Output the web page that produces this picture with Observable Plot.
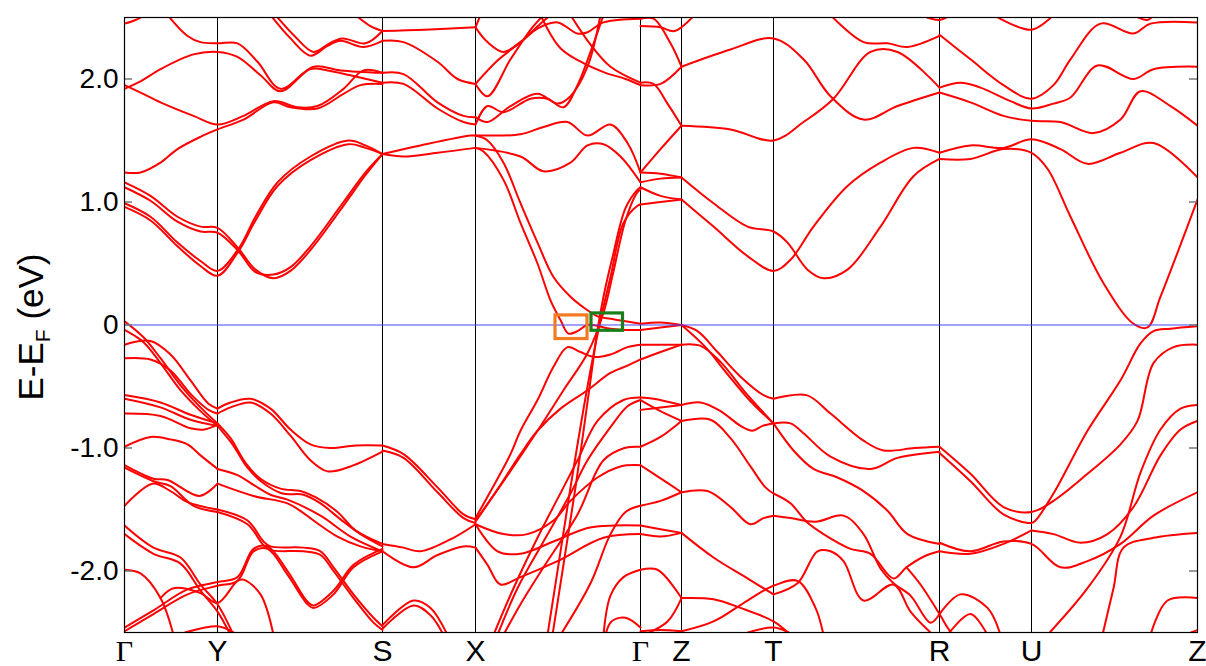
<!DOCTYPE html>
<html><head><meta charset="utf-8">
<script src="https://cdn.jsdelivr.net/npm/d3@7"></script>
<script src="https://cdn.jsdelivr.net/npm/@observablehq/plot@0.6"></script>
<style>body{margin:0;background:#fff;}</style>
</head><body><div id="chart"></div>
<script>
// High-symmetry points along the k-path
const kPoints = [0, 0.93, 2.58, 3.51, 5.16, 5.57, 6.49, 8.15, 9.07, 10.73];
const kLabels = ["Γ","Y","S","X","Γ","Z","T","R","U","Z"];
const yTicks = [-2, -1, 0, 1, 2];
const yTickLabels = ["-2.0","-1.0","0","1.0","2.0"];

// Highlight boxes near the Fermi level
const boxK1 = [4.31, 4.67];
const boxK2 = [4.63, 4.985];
const boxE1 = [-0.114, -0.047];
const boxE2 = [0.078, 0.094];
const boxColors = ["#f27a1f", "#1a7f1a"];

// Bands: each is a list of [k, E-EF] points
const upperGS = [
 [[0,0.99],[0.26,0.88],[0.53,0.67],[0.76,0.52],[0.93,0.44],[1.14,0.62],[1.31,0.88],[1.53,1.16],[1.86,1.37],[2.24,1.50],[2.41,1.46],[2.58,1.39]],
 [[0,0.96],[0.26,0.85],[0.53,0.64],[0.76,0.48],[0.93,0.40],[1.14,0.60],[1.31,0.85],[1.53,1.13],[1.86,1.34],[2.24,1.47],[2.41,1.44],[2.58,1.39]],
 [[0,1.16],[0.26,1.05],[0.53,0.88],[0.76,0.80],[0.93,0.79],[1.14,0.62],[1.31,0.45],[1.49,0.38],[1.66,0.44],[1.86,0.61],[2.19,0.97],[2.41,1.22],[2.58,1.39]],
 [[0,1.12],[0.26,1.01],[0.53,0.84],[0.76,0.76],[0.93,0.75],[1.14,0.60],[1.31,0.43],[1.49,0.41],[1.66,0.47],[1.86,0.64],[2.19,1.00],[2.41,1.24],[2.58,1.39]],
 [[0,1.24],[0.16,1.24],[0.36,1.32],[0.53,1.43],[0.76,1.53],[0.93,1.59],[1.19,1.67],[1.49,1.81],[1.66,1.77],[1.93,1.76],[2.19,1.88],[2.36,1.95],[2.58,1.96]],
 [[0,1.95],[0.16,1.89],[0.36,1.81],[0.69,1.70],[0.93,1.63],[1.19,1.70],[1.49,1.82],[1.73,1.77],[1.93,1.78],[2.19,1.92],[2.39,2.07],[2.58,2.05]],
 [[0,1.92],[0.16,1.98],[0.36,2.08],[0.69,2.20],[0.93,2.22],[1.13,2.18],[1.36,2.03],[1.56,1.90],[1.86,2.08],[2.03,2.07],[2.26,2.03],[2.58,1.97]],
 [[0.43,2.52],[0.63,2.35],[0.76,2.30],[0.93,2.29],[1.13,2.29],[1.33,2.14],[1.56,1.92],[1.89,2.10],[2.16,2.07],[2.58,2.05]],
 [[1.46,2.52],[1.66,2.33],[1.86,2.19],[2.03,2.27],[2.16,2.31],[2.39,2.26],[2.58,2.31]],
 [[1.51,2.52],[1.70,2.35],[1.89,2.22],[2.05,2.29],[2.18,2.33],[2.41,2.29],[2.58,2.39]],
 [[0,2.45],[0.11,2.48],[0.21,2.52]],
 [[0,2.50],[0.06,2.52]],
 [[2.31,2.52],[2.46,2.43],[2.58,2.39]]
];

const lowerGY = [
 [[0,0.03],[0.19,-0.10],[0.36,-0.27],[0.56,-0.49],[0.76,-0.67],[0.93,-0.80]],
 [[0,-0.04],[0.19,-0.14],[0.36,-0.31],[0.56,-0.53],[0.76,-0.70],[0.93,-0.82]],
 [[0,-0.16],[0.26,-0.13],[0.46,-0.24],[0.66,-0.45],[0.84,-0.64],[0.93,-0.68]],
 [[0,-0.27],[0.26,-0.28],[0.46,-0.37],[0.66,-0.56],[0.84,-0.69],[0.93,-0.72]],
 [[0,-0.57],[0.36,-0.63],[0.66,-0.73],[0.93,-0.80]],
 [[0,-0.60],[0.36,-0.67],[0.66,-0.77],[0.93,-0.82]],
 [[0,-0.72],[0.36,-0.74],[0.66,-0.84],[0.80,-0.85],[0.93,-0.81]],
 [[0,-0.99],[0.26,-0.91],[0.46,-0.93],[0.63,-0.97],[0.76,-1.06],[0.93,-1.17]],
 [[0,-1.14],[0.29,-1.25],[0.43,-1.26],[0.75,-1.39],[0.93,-1.29]],
 [[0,-1.16],[0.29,-1.27],[0.46,-1.31],[0.69,-1.47],[0.93,-1.52]],
 [[0,-1.47],[0.28,-1.29],[0.46,-1.35],[0.63,-1.44],[0.93,-1.50]],
 [[0,-1.63],[0.29,-1.81],[0.56,-1.89],[0.76,-2.11],[0.93,-2.27],[1.09,-2.52]],
 [[0,-1.70],[0.29,-1.86],[0.56,-1.94],[0.76,-2.16],[0.93,-2.33],[1.06,-2.52]],
 [[0,-1.99],[0.16,-2.02],[0.36,-2.22],[0.49,-2.52]],
 [[0.36,-2.22],[0.49,-2.14],[0.76,-2.18],[0.93,-2.26],[1.13,-2.08],[1.19,-2.07],[1.36,-2.19],[1.49,-2.52]],
 [[0,-2.49],[0.29,-2.35],[0.63,-2.19],[0.93,-2.12],[1.13,-2.08],[1.29,-1.84],[1.43,-1.82],[1.63,-2.03],[1.83,-2.27],[1.89,-2.30],[2.09,-2.19],[2.29,-1.97],[2.58,-1.84]],
 [[0,-2.46],[0.29,-2.32],[0.63,-2.15],[0.93,-2.09],[1.13,-2.05],[1.29,-1.82],[1.43,-1.80],[1.63,-2.00],[1.83,-2.25],[1.89,-2.28],[2.09,-2.16],[2.29,-1.95],[2.58,-1.82]],
 [[0.53,-2.52],[0.93,-2.45],[1.13,-2.52]]
];

const lowerYS = [
 [[0.93,-0.68],[1.06,-0.63],[1.26,-0.60],[1.46,-0.68],[1.66,-0.85],[1.86,-0.97],[2.06,-1.00],[2.31,-0.98],[2.58,-0.98]],
 [[0.93,-0.72],[1.06,-0.67],[1.26,-0.63],[1.46,-0.72],[1.66,-0.90],[1.86,-1.10],[2.03,-1.19],[2.26,-1.15],[2.58,-1.03]],
 [[0.93,-0.80],[1.06,-0.92],[1.21,-1.12],[1.36,-1.25],[1.56,-1.33],[1.76,-1.35],[1.91,-1.40],[2.13,-1.52],[2.31,-1.67],[2.58,-1.78]],
 [[0.93,-0.82],[1.08,-0.97],[1.23,-1.16],[1.38,-1.28],[1.58,-1.37],[1.79,-1.38],[1.96,-1.45],[2.16,-1.58],[2.36,-1.70],[2.58,-1.80]],
 [[0.93,-1.17],[1.13,-1.22],[1.29,-1.30],[1.46,-1.38],[1.63,-1.42],[1.96,-1.55],[2.26,-1.72],[2.58,-1.84]],
 [[0.93,-1.29],[1.29,-1.39],[1.63,-1.45],[1.79,-1.53],[1.96,-1.63],[2.13,-1.72],[2.36,-1.80],[2.58,-1.84]],
 [[0.93,-1.50],[1.23,-1.59],[1.39,-1.76],[1.46,-1.80],[1.79,-1.81],[1.96,-1.84],[2.09,-1.97],[2.29,-2.19],[2.49,-2.38],[2.58,-2.45]],
 [[0.93,-1.52],[1.23,-1.62],[1.39,-1.79],[1.46,-1.83],[1.79,-1.84],[1.96,-1.87],[2.09,-2.00],[2.29,-2.22],[2.49,-2.42],[2.58,-2.48]]
];

const bandsSX = [
 [[2.58,2.39],[3.00,2.40],[3.51,2.42]],
 [[2.58,2.31],[2.79,2.30],[3.13,2.14],[3.33,2.00],[3.51,1.96]],
 [[2.58,2.05],[2.79,2.04],[3.13,1.81],[3.39,1.70],[3.51,1.69]],
 [[2.58,1.97],[2.79,1.96],[3.13,1.76],[3.39,1.65],[3.51,1.63]],
 [[2.58,1.39],[2.96,1.46],[3.46,1.54],[3.51,1.54]],
 [[2.58,1.39],[2.79,1.37],[3.13,1.40],[3.51,1.44]],
 [[2.58,-0.98],[2.79,-1.05],[3.13,-1.32],[3.39,-1.54],[3.51,-1.58]],
 [[2.58,-1.02],[2.79,-1.08],[3.13,-1.36],[3.39,-1.57],[3.51,-1.61]],
 [[2.58,-1.78],[2.79,-1.81],[2.96,-1.84],[3.29,-1.73],[3.51,-1.62]],
 [[2.58,-1.84],[2.89,-1.97],[3.13,-1.87],[3.39,-1.80],[3.51,-1.81]],
 [[2.58,-2.44],[2.89,-2.24],[3.06,-2.30],[3.23,-2.52]],
 [[2.58,-2.47],[2.89,-2.28],[3.06,-2.36],[3.19,-2.52]]
];

const bandsXG = [
 [[3.51,1.54],[3.63,1.50],[3.79,1.32],[3.96,0.99],[4.13,0.67],[4.29,0.39],[4.46,0.23],[4.63,0.12],[4.73,0.07],[4.86,0.05],[5.01,0.03],[5.16,0.01]],
 [[3.51,1.44],[3.59,1.41],[3.79,1.18],[3.96,0.83],[4.13,0.50],[4.26,0.20],[4.36,0.04],[4.44,-0.07],[4.53,-0.05],[4.63,0.00],[4.86,-0.03],[5.01,-0.04],[5.16,-0.04]],
 [[3.51,1.54],[3.59,1.54],[3.96,1.55],[4.19,1.61],[4.43,1.65],[4.63,1.54],[4.86,1.63],[5.03,1.48],[5.16,1.24]],
 [[3.51,1.44],[3.96,1.37],[4.19,1.25],[4.46,1.32],[4.63,1.46],[4.79,1.47],[4.96,1.37],[5.16,1.16]],
 [[3.51,1.63],[3.63,1.78],[3.79,1.73],[4.06,1.84],[4.23,1.84],[4.39,1.77],[4.53,1.95],[4.66,2.22],[4.79,2.52]],
 [[3.51,1.69],[3.63,1.65],[3.86,1.78],[4.13,1.88],[4.33,1.80],[4.46,1.86],[4.63,2.10],[4.76,2.52]],
 [[3.51,1.96],[3.63,1.86],[3.86,2.16],[4.06,2.40],[4.19,2.52]],
 [[3.51,1.96],[3.73,2.15],[3.96,2.30],[4.16,2.45],[4.26,2.52]],
 [[3.51,2.42],[3.63,2.30],[3.79,2.22],[3.96,2.30],[4.13,2.41],[4.33,2.46],[4.53,2.37],[4.63,2.38],[4.79,2.46],[5.16,2.49]],
 [[4.16,2.52],[4.36,2.25],[4.61,2.12],[4.81,2.05],[5.01,2.00],[5.16,1.95]],
 [[4.46,2.52],[4.66,2.28],[4.86,2.10],[5.16,1.97]],
 [[3.51,2.42],[3.56,2.52]],
 [[4.23,-2.52],[4.33,-2.00],[4.46,-1.32],[4.63,-0.50],[4.76,0.04],[4.86,0.39],[4.99,0.83],[5.13,0.97],[5.16,0.98]],
 [[4.28,-2.52],[4.38,-2.00],[4.51,-1.32],[4.66,-0.45],[4.73,-0.04],[4.79,0.23],[4.88,0.55],[5.01,0.95],[5.13,1.10],[5.16,1.12]],
 [[3.51,-1.59],[3.79,-1.27],[4.13,-0.86],[4.39,-0.53],[4.63,-0.23],[4.79,0.10],[4.88,0.40],[5.01,0.85],[5.13,1.08],[5.16,1.10]],
 [[3.51,-1.57],[3.73,-1.25],[3.86,-1.05],[3.96,-0.86],[4.13,-0.61],[4.29,-0.34],[4.43,-0.18],[4.56,-0.22],[4.69,-0.26],[4.86,-0.24],[5.03,-0.18],[5.16,-0.16]],
 [[3.51,-1.60],[3.76,-1.30],[3.96,-1.05],[4.13,-0.86],[4.36,-0.68],[4.63,-0.53],[4.86,-0.39],[5.03,-0.33],[5.16,-0.28]],
 [[3.69,-2.52],[3.89,-2.14],[4.13,-1.73],[4.39,-1.32],[4.53,-1.10],[4.73,-0.78],[4.99,-0.61],[5.16,-0.59]],
 [[3.73,-2.52],[3.93,-2.14],[4.19,-1.76],[4.46,-1.37],[4.63,-1.10],[4.86,-0.83],[5.03,-0.66],[5.16,-0.61]],
 [[3.79,-2.52],[3.96,-2.27],[4.19,-1.97],[4.53,-1.54],[4.79,-1.10],[5.00,-1.00],[5.16,-0.99]],
 [[3.51,-1.62],[3.79,-1.70],[4.03,-1.70],[4.29,-1.59],[4.46,-1.43],[4.73,-1.24],[4.96,-1.15],[5.16,-1.14]],
 [[3.51,-1.62],[3.73,-1.84],[3.96,-1.86],[4.29,-1.76],[4.63,-1.65],[4.90,-1.63],[5.16,-1.63]],
 [[3.51,-1.81],[3.63,-1.95],[3.76,-2.11],[3.96,-2.05],[4.33,-1.92],[4.79,-1.73],[5.16,-1.70]],
 [[4.36,-2.52],[4.66,-2.10],[4.86,-1.70],[5.01,-1.52],[5.16,-1.47]],
 [[4.79,-2.52],[4.86,-2.20],[4.99,-2.05],[5.16,-1.99]],
 [[4.81,-2.52],[4.87,-2.41],[5.01,-2.38],[5.16,-2.46]]
];

const bandsGZ = [
 [[5.16,2.49],[5.29,2.49],[5.46,2.29],[5.57,2.10]],
 [[5.16,1.95],[5.36,1.96],[5.57,2.10]],
 [[5.16,1.97],[5.29,1.96],[5.43,1.80],[5.57,1.62]],
 [[5.16,1.24],[5.36,1.43],[5.57,1.62]],
 [[5.16,1.24],[5.36,1.23],[5.57,1.20]],
 [[5.16,1.16],[5.36,1.19],[5.57,1.20]],
 [[5.16,1.12],[5.36,1.05],[5.57,1.02]],
 [[5.16,0.98],[5.36,1.00],[5.57,1.02]],
 [[5.16,2.43],[5.36,2.42],[5.50,2.39],[5.70,2.52]],
 [[5.16,0.01],[5.36,0.02],[5.57,0.00]],
 [[5.16,-0.04],[5.36,-0.02],[5.57,0.00]],
 [[5.16,-0.16],[5.36,-0.16],[5.57,-0.16]],
 [[5.16,-0.28],[5.36,-0.22],[5.57,-0.16]],
 [[5.16,-0.59],[5.29,-0.60],[5.57,-0.65]],
 [[5.16,-0.69],[5.36,-0.67],[5.57,-0.65]],
 [[5.16,-0.61],[5.36,-0.70],[5.57,-0.78]],
 [[5.16,-0.99],[5.36,-0.91],[5.57,-0.78]],
 [[5.16,-1.14],[5.33,-1.23],[5.57,-1.36]],
 [[5.16,-1.47],[5.36,-1.43],[5.57,-1.36]],
 [[5.16,-1.63],[5.36,-1.66],[5.57,-1.69]],
 [[5.16,-1.70],[5.36,-1.72],[5.57,-1.69]],
 [[5.16,-1.99],[5.33,-1.99],[5.57,-2.22]],
 [[5.16,-2.49],[5.36,-2.48],[5.57,-2.49]],
 [[5.19,-2.52],[5.43,-2.41],[5.57,-2.22]]
];

const bandsZT = [
 [[5.57,2.10],[6.06,2.24],[6.49,2.33],[6.79,2.16],[7.06,1.86],[7.39,1.67],[7.73,1.78],[8.15,1.89]],
 [[5.57,1.62],[6.06,1.59],[6.49,1.50],[6.79,1.65],[7.09,1.84],[7.46,2.22],[7.73,2.22],[8.15,1.93]],
 [[5.57,1.20],[5.89,0.99],[6.23,0.80],[6.49,0.76],[6.63,0.67],[6.83,0.45],[6.99,0.38],[7.23,0.45],[7.56,0.80],[7.89,1.21],[8.15,1.35]],
 [[5.57,1.02],[5.89,0.80],[6.23,0.56],[6.49,0.44],[6.66,0.53],[6.89,0.80],[7.23,1.13],[7.56,1.32],[7.89,1.44],[8.15,1.40]],
 [[7.06,2.52],[7.39,2.30],[7.63,2.29],[7.83,2.26],[8.15,2.35]],
 [[7.96,2.52],[8.15,2.48],[8.26,2.52]],
 [[5.57,0.00],[5.73,-0.05],[5.93,-0.22],[6.16,-0.42],[6.39,-0.57],[6.49,-0.60]],
 [[5.57,-0.16],[5.76,-0.17],[5.96,-0.30],[6.21,-0.55],[6.49,-0.80]],
 [[5.57,0.00],[5.81,-0.18],[6.01,-0.38],[6.26,-0.62],[6.49,-0.80]],
 [[5.57,-0.65],[5.76,-0.63],[5.96,-0.70],[6.16,-0.82],[6.28,-0.86],[6.38,-0.82],[6.49,-0.80]],
 [[5.57,-0.78],[5.86,-0.77],[6.06,-0.92],[6.26,-1.15],[6.41,-1.32],[6.49,-1.37]],
 [[5.57,-1.36],[5.83,-1.35],[6.06,-1.48],[6.26,-1.62],[6.39,-1.57],[6.49,-1.55]],
 [[5.57,-1.69],[5.89,-1.89],[6.23,-2.06],[6.49,-2.19]],
 [[5.57,-2.22],[5.89,-2.23],[6.16,-2.30],[6.49,-2.41],[6.66,-2.52]],
 [[5.57,-2.49],[5.89,-2.41],[6.23,-2.24],[6.49,-2.12],[6.73,-2.08],[6.91,-2.30],[6.99,-2.52]],
 [[6.16,-2.52],[6.49,-2.46],[6.69,-2.52]]
];

const bandsTR = [
 [[6.49,-0.60],[6.82,-0.57],[7.06,-0.72],[7.39,-0.94],[7.59,-1.02],[7.90,-1.00],[8.15,-0.99]],
 [[6.49,-0.80],[6.66,-0.80],[6.79,-0.88],[7.06,-1.07],[7.46,-1.17],[7.73,-1.08],[8.15,-1.03]],
 [[6.49,-0.80],[6.69,-1.02],[6.89,-1.17],[7.13,-1.24],[7.39,-1.35],[7.63,-1.51],[7.83,-1.70],[8.15,-1.78]],
 [[6.49,-1.37],[6.66,-1.45],[6.82,-1.60],[6.99,-1.70],[7.26,-1.82],[7.46,-1.86],[7.69,-2.06],[7.82,-1.97],[8.00,-1.88],[8.15,-1.84]],
 [[6.49,-1.55],[6.66,-1.57],[6.91,-1.60],[7.19,-1.55],[7.39,-1.70],[7.56,-1.98],[7.69,-2.10],[7.86,-2.20],[8.06,-2.42],[8.15,-2.35]],
 [[6.49,-2.19],[6.73,-2.10],[6.93,-1.84],[7.06,-1.84],[7.19,-1.92],[7.39,-2.24],[7.69,-2.11],[7.86,-2.33],[8.06,-2.50]],
 [[7.82,-1.97],[7.96,-2.11],[8.15,-2.35],[8.23,-2.46],[8.28,-2.52]]
];

const bandsRZ = [
 [[8.15,1.89],[8.46,1.81],[8.79,1.70],[9.07,1.66],[9.36,1.65],[9.69,1.56],[9.96,1.67],[10.16,1.90],[10.46,1.78],[10.73,1.62]],
 [[8.15,1.93],[8.36,1.97],[8.56,1.93],[8.86,1.82],[9.07,1.76],[9.29,1.80],[9.46,1.85],[9.73,2.11],[10.09,2.00],[10.29,2.08],[10.73,2.10]],
 [[8.15,2.36],[8.46,2.16],[8.79,1.95],[9.07,1.84],[9.29,1.95],[9.46,2.16],[9.76,2.45],[10.09,2.37],[10.26,2.45],[10.73,2.46]],
 [[8.15,1.40],[8.46,1.46],[8.79,1.44],[9.07,1.51],[9.36,1.43],[9.63,1.31],[9.96,1.40],[10.29,1.48],[10.73,1.20]],
 [[8.15,1.35],[8.46,1.35],[8.79,1.43],[9.07,1.40],[9.23,1.27],[9.46,0.88],[9.79,0.34],[10.09,0.01],[10.23,-0.02],[10.36,0.23],[10.73,1.02]],
 [[8.69,2.52],[9.07,2.40],[9.29,2.52]],
 [[10.09,2.52],[10.23,2.48],[10.29,2.52]],
 [[8.15,-0.99],[8.46,-1.21],[8.79,-1.48],[9.07,-1.52],[9.29,-1.43],[9.63,-1.21],[9.96,-0.97],[10.13,-0.78],[10.29,-0.31],[10.49,-0.18],[10.73,-0.16]],
 [[8.15,-1.04],[8.46,-1.27],[8.79,-1.54],[9.07,-1.61],[9.11,-1.59],[9.29,-1.37],[9.63,-0.86],[9.96,-0.45],[10.16,-0.15],[10.29,-0.05],[10.46,-0.03],[10.73,-0.01]],
 [[9.07,-1.67],[9.29,-1.70],[9.56,-1.77],[9.83,-1.70],[10.09,-1.48],[10.36,-1.06],[10.56,-0.85],[10.73,-0.78]],
 [[8.15,-1.77],[8.46,-1.84],[8.79,-1.76],[9.07,-1.78],[9.36,-1.97],[9.63,-1.92],[9.96,-1.78],[10.29,-1.55],[10.73,-1.36]],
 [[8.15,-1.84],[8.46,-1.86],[8.79,-1.78],[9.07,-1.67]],
 [[9.23,-2.52],[9.63,-2.14],[9.96,-1.72],[10.16,-1.20],[10.36,-0.85],[10.56,-0.68],[10.73,-0.65]],
 [[9.78,-2.52],[9.89,-2.14],[9.99,-1.81],[10.29,-1.73],[10.73,-1.69]],
 [[10.26,-2.52],[10.43,-2.24],[10.73,-2.22]],
 [[10.60,-2.52],[10.73,-2.48]],
 [[8.15,-2.35],[8.36,-2.19],[8.63,-2.30],[8.76,-2.52]],
 [[8.23,-2.52],[8.46,-2.35],[8.63,-2.52]]
];

const allBands = [...upperGS, ...lowerGY, ...lowerYS, ...bandsSX, ...bandsXG, ...bandsGZ, ...bandsZT, ...bandsTR, ...bandsRZ];
const data = allBands.flatMap((pts, id) => pts.map(([k, e]) => ({k, e, id})));
const boxes = boxColors.map((c, i) => ({k1: boxK1[i], k2: boxK2[i], e1: boxE1[i], e2: boxE2[i], c}));
const xLabelMap = new Map(kPoints.map((k, i) => [k, kLabels[i]]));
const yLabelMap = new Map(yTicks.map((v, i) => [v, yTickLabels[i]]));

const chart = Plot.plot({
  width: 1206, height: 666,
  marginLeft: 124, marginRight: 9, marginTop: 17, marginBottom: 34,
  style: {fontFamily: "'Liberation Sans', Arial, sans-serif", background: "#fff", color: "#000"},
  x: {domain: [0, 10.73]},
  y: {domain: [-2.5, 2.5]},
  marks: [
    Plot.ruleX(kPoints, {stroke: "#000", strokeWidth: 1}),
    Plot.line(data, {x: "k", y: "e", z: "id", stroke: "#ff0000", strokeWidth: 2, curve: "catmull-rom", clip: true}),
    Plot.ruleY([0], {stroke: "#4545ff", strokeWidth: 1.2}),
    Plot.rect(boxes, {x1: "k1", x2: "k2", y1: "e1", y2: "e2", stroke: "c", strokeWidth: 3.2, fill: "none"}),
    Plot.ruleY(yTicks, {x1: 0, x2: 0.08, stroke: "#777", strokeWidth: 1.5}),
    Plot.ruleY(yTicks, {x1: 10.65, x2: 10.73, stroke: "#777", strokeWidth: 1.5}),
    Plot.frame({stroke: "#000", strokeWidth: 1.2}),
    Plot.axisY({ticks: yTicks, tickSize: 0, tickPadding: 6, tickFormat: d => yLabelMap.get(d), fontSize: 28, label: null}),
    Plot.axisX({ticks: kPoints, tickSize: 0, tickPadding: 7, tickFormat: d => xLabelMap.get(d), fontSize: 30, label: null})
  ]
});
document.getElementById("chart").appendChild(chart);

const svg = d3.select(chart);
svg.selectAll('g[aria-label="x-axis tick label"] text')
  .filter(function() { return this.textContent === "Γ"; })
  .attr("font-family", "'Liberation Serif', 'Times New Roman', serif");
const title = svg.append("text")
  .attr("transform", "translate(43,327) rotate(-90)")
  .attr("text-anchor", "middle")
  .attr("font-size", 35)
  .attr("font-family", "'Liberation Sans', Arial, sans-serif")
  .attr("fill", "#000");
title.append("tspan").text("E-E");
title.append("tspan").attr("font-size", 21).attr("dy", 7).text("F");
title.append("tspan").attr("dy", -7).text(" (eV)");
</script>
</body></html>
